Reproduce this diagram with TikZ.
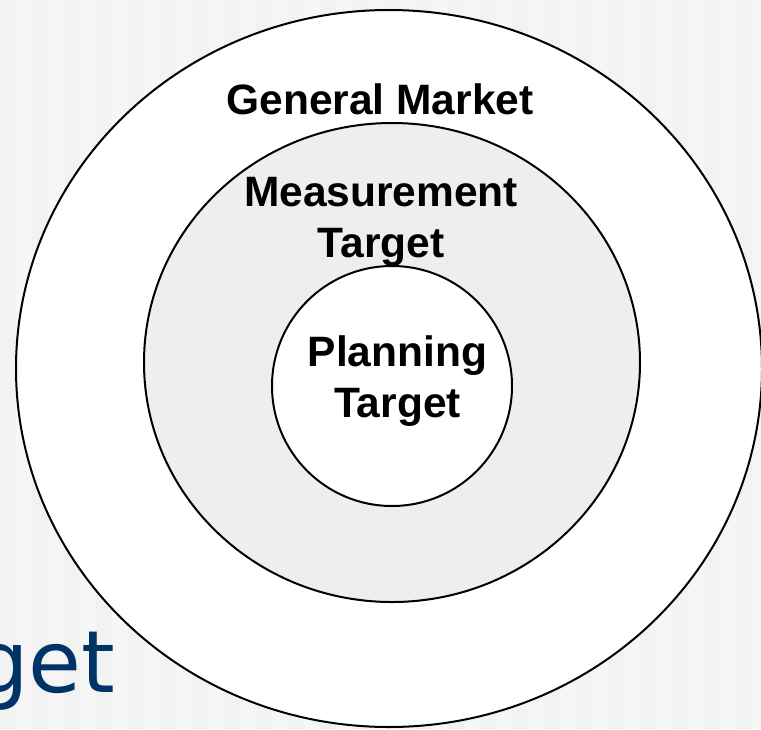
\documentclass[tikz,border=0pt]{standalone}
\usepackage{fontspec}
\setmainfont{Liberation Sans}
\newfontfamily\titlefont{DejaVu Sans}
\definecolor{stripeA}{HTML}{F2F2F2}
\definecolor{stripeB}{HTML}{F6F6F6}
\definecolor{ringgray}{HTML}{EEEEEE}
\definecolor{titleblue}{HTML}{003366}
\begin{document}
\begin{tikzpicture}[x=1pt,y=-1pt,
  ring/.style={draw=black,line width=2pt},
  label/.style={font=\bfseries\fontsize{42.5}{51}\selectfont,align=center,inner sep=0pt}]
\useasboundingbox (0,0) rectangle (761,729);
% striped slide background
\fill[stripeA] (0,0) rectangle (761,729);
\foreach \i in {0,...,23}{
  \fill[stripeB] ({32*\i+16},0) rectangle ({32*\i+32},729);
}
% title fragment
\node[anchor=base west,inner sep=0pt,text=titleblue,font=\titlefont\fontsize{86}{100}\selectfont] (title) at (-26,692) {get};
% nested target rings
\path[ring,fill=white] (389,368.5) ellipse [x radius=373,y radius=358.5];
\path[ring,fill=ringgray] (392,362.5) ellipse [x radius=248,y radius=239.5];
\node[ring,fill=white,circle,minimum size=240pt,inner sep=0pt] (plan) at (392,386) {};
% ring labels (base = baseline of the last line)
\node[label,anchor=base] (general) at (380,114) {General Market};
\node[label,anchor=base] (measure) at (381,257) {Measurement\\Target};
\node[label,anchor=base] (planning) at (397.5,417) {Planning\\Target};
\end{tikzpicture}
\end{document}
